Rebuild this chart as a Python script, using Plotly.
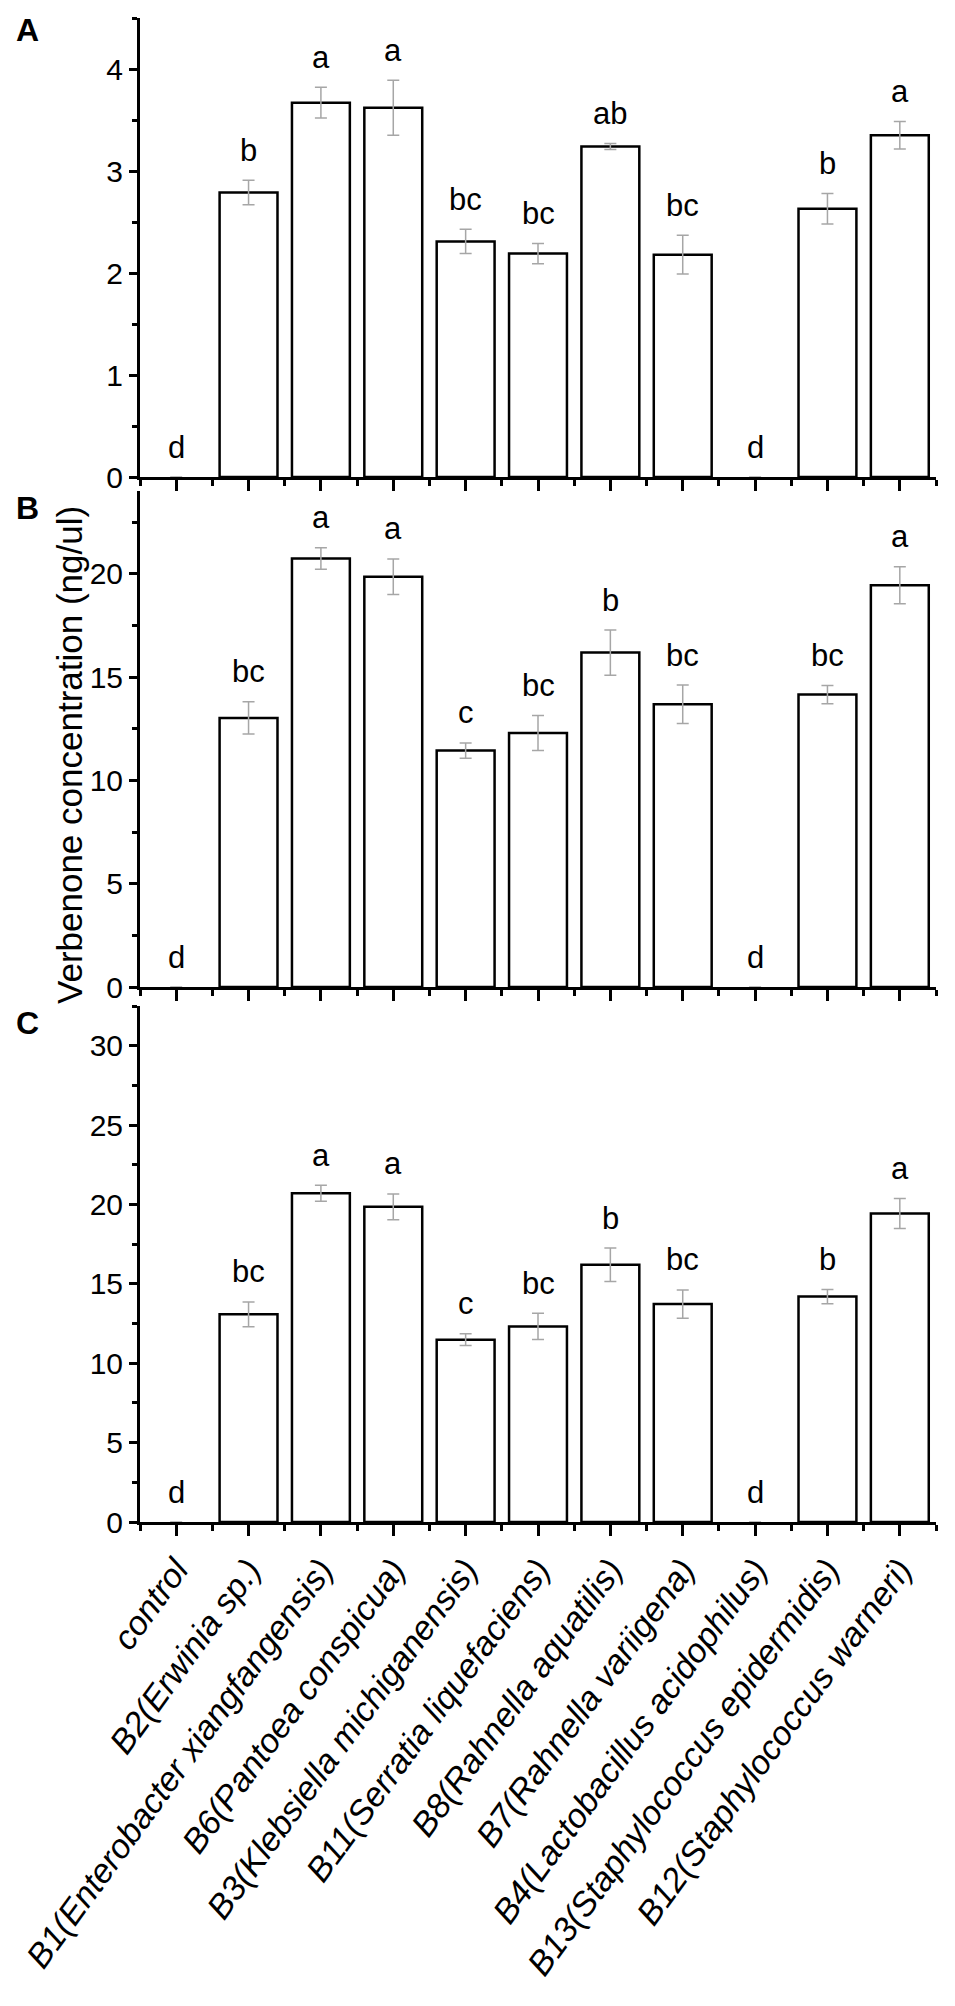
import plotly.graph_objects as go

categories = ["control", "B2(Erwinia sp.)", "B1(Enterobacter xiangfangensis)",
              "B6(Pantoea conspicua)", "B3(Klebsiella michiganensis)",
              "B11(Serratia liquefaciens)", "B8(Rahnella aquatilis)",
              "B7(Rahnella variigena)", "B4(Lactobacillus acidophilus)",
              "B13(Staphylococcus epidermidis)", "B12(Staphylococcus warneri)"]

values_a = [0, 2.79, 3.67, 3.62, 2.31, 2.19, 3.24, 2.18, 0, 2.63, 3.35]
errors_a = [0, 0.12, 0.15, 0.27, 0.12, 0.10, 0.03, 0.19, 0, 0.15, 0.135]
letters_a = ["d", "b", "a", "a", "bc", "bc", "ab", "bc", "d", "b", "a"]

values_b = [0, 13.02, 20.73, 19.85, 11.44, 12.29, 16.18, 13.68, 0, 14.15, 19.44]
errors_b = [0, 0.78, 0.52, 0.86, 0.37, 0.85, 1.09, 0.93, 0, 0.44, 0.89]
letters_b = ["d", "bc", "a", "a", "c", "bc", "b", "bc", "d", "bc", "a"]

values_c = [0, 13.08, 20.71, 19.85, 11.48, 12.32, 16.20, 13.73, 0, 14.20, 19.43]
errors_c = [0, 0.78, 0.50, 0.81, 0.37, 0.83, 1.05, 0.89, 0, 0.45, 0.94]
letters_c = ["d", "bc", "a", "a", "c", "bc", "b", "bc", "d", "b", "a"]

panel_labels = ["A", "B", "C"]
y_title = "Verbenone concentration (ng/ul)"
y_ranges = [[0, 4.5], [0, 24], [0, 32.5]]
y_dticks = [1, 5, 5]

W, H = 955, 2006
L, R, T, B = 132, 27, 10, 492
plot_h = H - T - B
plot_w = W - L - R
# pixel extent of each panel (top, bottom)
panel_px = [(10, 469), (483, 979), (998, 1514)]
domains = [[(H - B - b) / plot_h, (H - B - t) / plot_h] for (t, b) in panel_px]
letter_px = [22, 500, 1015]

regular = "Liberation Sans, Arial, Helvetica, sans-serif"

fig = go.Figure()
x_idx = list(range(len(categories)))
data = [(values_a, errors_a, letters_a), (values_b, errors_b, letters_b),
        (values_c, errors_c, letters_c)]

annotations = []
for p, (vals, errs, lets) in enumerate(data):
    suffix = "" if p == 0 else str(p + 1)
    outline = [0 if v == 0 else 2.5 for v in vals]
    fig.add_trace(go.Bar(
        x=x_idx, y=vals, width=0.8,
        marker=dict(color="white", line=dict(color="black", width=outline)),
        error_y=dict(type="data", array=errs, visible=True, color="#a6a6a6",
                     thickness=1.5, width=6),
        xaxis="x" + suffix, yaxis="y" + suffix, showlegend=False,
        hoverinfo="skip",
    ))
    for i, (v, e, t) in enumerate(zip(vals, errs, lets)):
        annotations.append(dict(
            x=i, y=v + e, xref="x" + suffix, yref="y" + suffix, text=t,
            showarrow=False, yanchor="middle", yshift=30,
            font=dict(family=regular, size=31, color="black")))
    annotations.append(dict(
        x=(19 - L) / plot_w, y=(H - B - letter_px[p]) / plot_h,
        xref="paper", yref="paper", xanchor="center", yanchor="middle",
        text="<b>" + panel_labels[p] + "</b>", showarrow=False,
        font=dict(family=regular, size=32, color="black")))

annotations.append(dict(
    x=(61 - L) / plot_w, y=(H - B - 747) / plot_h, xref="paper", yref="paper",
    text=y_title, textangle=-90, showarrow=False, xanchor="center", yanchor="middle",
    font=dict(family=regular, size=35, color="black")))

layout = dict(
    width=W, height=H, margin=dict(l=L, r=R, t=T, b=B, pad=0),
    paper_bgcolor="white", plot_bgcolor="white",
    annotations=annotations,
)

for p in range(3):
    suffix = "" if p == 0 else str(p + 1)
    xa = dict(
        domain=[0, 1], range=[-0.5, 10.5], anchor="y" + suffix,
        showline=True, linecolor="black", linewidth=3,
        ticks="outside", ticklen=11, tickwidth=3, tickcolor="black",
        tickmode="array", tickvals=x_idx, ticktext=categories,
        showticklabels=(p == 2), tickangle=-54,
        tickfont=dict(family=regular, size=34, color="black", style="italic"),
        minor=dict(ticks="outside", ticklen=6, tickwidth=3, tickcolor="black",
                   tickmode="linear", tick0=-0.5, dtick=0.5),
        showgrid=False, zeroline=False, fixedrange=True,
    )
    ya = dict(
        domain=domains[p], range=y_ranges[p], anchor="x" + suffix,
        showline=True, linecolor="black", linewidth=3,
        ticks="outside", ticklen=8, tickwidth=3, tickcolor="black",
        tick0=0, dtick=y_dticks[p],
        tickfont=dict(family=regular, size=30, color="black"),
        minor=dict(ticks="outside", ticklen=5, tickwidth=2.5, tickcolor="black",
                   tick0=0, dtick=y_dticks[p] / 2),
        showgrid=False, zeroline=False, fixedrange=True,
    )
    layout["xaxis" + suffix] = xa
    layout["yaxis" + suffix] = ya

fig.update_layout(**layout)
fig.write_html("out.html")
